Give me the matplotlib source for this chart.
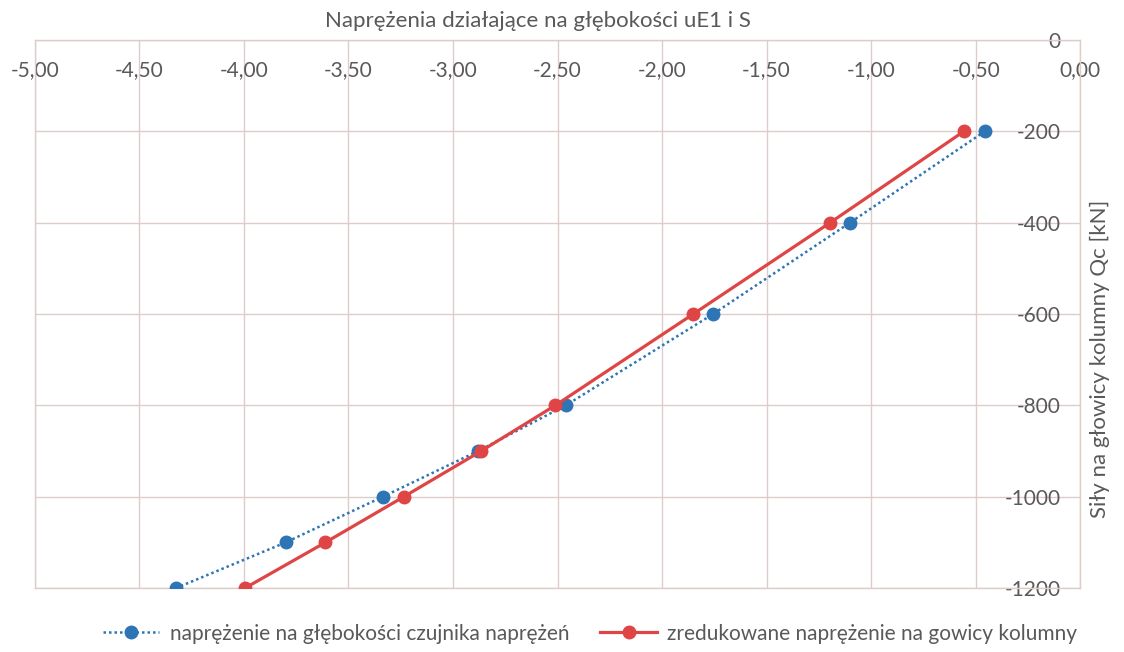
"""Naprężenia działające na głębokości uE1 i S - odtworzenie wykresu."""
import matplotlib

matplotlib.use("Agg")
import matplotlib.pyplot as plt

plt.rcParams["font.family"] = ["Lato", "DejaVu Sans"]

# dane
sily_kn = [-200, -400, -600, -800, -900, -1000, -1100, -1200]
naprezenie_czujnik = [-0.455, -1.10, -1.755, -2.46, -2.88, -3.335, -3.80, -4.325]
naprezenie_glowica = [-0.555, -1.195, -1.85, -2.51, -2.865, -3.235, -3.61, -3.995]

x_ticks = [-5.0, -4.5, -4.0, -3.5, -3.0, -2.5, -2.0, -1.5, -1.0, -0.5, 0.0]
y_ticks = [-1200, -1000, -800, -600, -400, -200, 0]

BLUE = "#2E75B6"
RED = "#E04545"
GRID = "#DCCDCA"
TEXT = "#595959"

fig = plt.figure(figsize=(11.24, 6.52), dpi=100)
ax = fig.add_axes([0.031, 0.098, 0.930, 0.841])

ax.plot(
    naprezenie_czujnik,
    sily_kn,
    linestyle=(0, (1, 1.2)),
    linewidth=1.8,
    color=BLUE,
    marker="o",
    markersize=9,
    label="naprężenie na głębokości czujnika naprężeń",
    zorder=3,
)
ax.plot(
    naprezenie_glowica,
    sily_kn,
    linestyle="-",
    linewidth=2.3,
    color=RED,
    marker="o",
    markersize=9,
    label="zredukowane naprężenie na gowicy kolumny",
    zorder=4,
)

ax.set_xlim(-5.0, 0.0)
ax.set_ylim(-1200, 0)
ax.set_xticks(x_ticks)
ax.set_xticklabels([f"{v:.2f}".replace(".", ",") for v in x_ticks])
ax.set_yticks(y_ticks)
ax.set_yticklabels([str(v) for v in y_ticks])

ax.grid(True, color=GRID, linewidth=1.0)
ax.set_axisbelow(True)
for spine in ax.spines.values():
    spine.set_color(GRID)
    spine.set_linewidth(1.0)

# os X u góry, etykiety pod linią osi (wewnątrz obszaru)
ax.tick_params(axis="x", top=True, labeltop=True, bottom=False, labelbottom=False,
               length=0, pad=-29, labelsize=15, labelcolor=TEXT)
# os Y po prawej, etykiety na lewo od osi
ax.tick_params(axis="y", right=True, labelright=True, left=False, labelleft=False,
               length=0, pad=-14, labelsize=15, labelcolor=TEXT)
for label in ax.get_yticklabels():
    label.set_horizontalalignment("right")

fig.text(0.479, 0.968, "Naprężenia działające na głębokości uE1 i S",
         ha="center", va="center", fontsize=16, color=TEXT)
fig.text(0.979, 0.45, "Siły na głowicy kolumny Qc [kN]", rotation=90,
         ha="center", va="center", fontsize=16, color=TEXT)

fig.legend(loc="center", bbox_to_anchor=(0.525, 0.028), ncol=2, frameon=False,
           fontsize=15, labelcolor=TEXT, handlelength=2.7, columnspacing=1.5,
           handletextpad=0.5)

fig.savefig("out.png", dpi=100)
